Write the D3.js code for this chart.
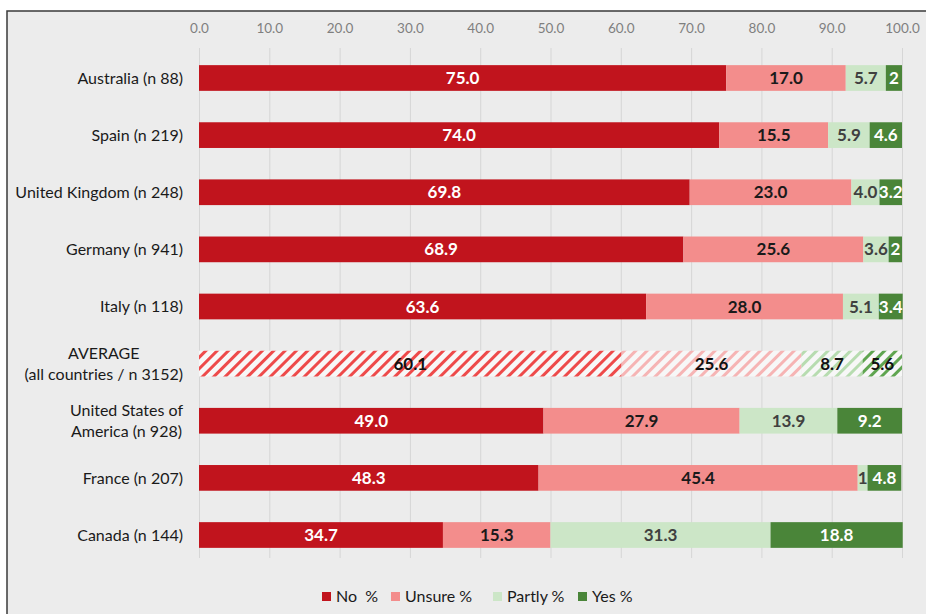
<!DOCTYPE html>
<html>
<head>
<meta charset="utf-8">
<script src="https://cdn.jsdelivr.net/npm/d3@7"></script>
<style>
  html, body { margin: 0; padding: 0; background: #fff; }
  svg { display: block; font-family: Lato, "Open Sans", sans-serif; }
</style>
</head>
<body>
<svg id="chart" width="926" height="614"></svg>
<script>
// данные
var countries = ['Australia (n 88)', 'Spain (n 219)', 'United Kingdom (n 248)', 'Germany (n 941)',
    'Italy (n 118)', 'AVERAGE\n(all countries / n 3152)', 'United States of\nAmerica (n 928)',
    'France (n 207)', 'Canada (n 144)'];
var noPct     = [75.0, 74.0, 69.8, 68.9, 63.6, 60.1, 49.0, 48.3, 34.7];
var unsurePct = [17.0, 15.5, 23.0, 25.6, 28.0, 25.6, 27.9, 45.4, 15.3];
var partlyPct = [5.7, 5.9, 4.0, 3.6, 5.1, 8.7, 13.9, 1.4, 31.3];
var yesPct    = [2.3, 4.6, 3.2, 1.9, 3.4, 5.6, 9.2, 4.8, 18.8];
var seriesNames = ['No\u00a0\u00a0%', 'Unsure %', 'Partly %', 'Yes %'];
var tickValues = [0, 10, 20, 30, 40, 50, 60, 70, 80, 90, 100];
var averageIndex = 5;

var colors = ['#c1141d', '#f38d8c', '#cce6c7', '#4a8539'];
var hatchColors = ['#ee4a4a', '#f6b4b4', '#b7dcb0', '#5fa550'];
var labelColors = ['#ffffff', '#1a1a1a', '#404040', '#ffffff'];

var svg = d3.select('#chart');

// фон и рамка
svg.append('rect').attr('x', 7).attr('y', 11).attr('width', 930).attr('height', 620)
    .attr('fill', '#ececec').attr('stroke', '#3a3a3a').attr('stroke-width', 1.5);

// штриховка для строки среднего
var defs = svg.append('defs');
hatchColors.forEach(function (c, i) {
    var p = defs.append('pattern').attr('id', 'hatch' + i)
        .attr('patternUnits', 'userSpaceOnUse').attr('width', 8).attr('height', 8)
        .attr('patternTransform', 'rotate(45)');
    p.append('rect').attr('width', 8).attr('height', 8).attr('fill', '#f7f7f7');
    p.append('rect').attr('width', 3).attr('height', 8).attr('fill', c);
});

var x = d3.scaleLinear().domain([0, 100]).range([199, 902]);
var y = d3.scaleBand().domain(d3.range(countries.length)).range([48, 565]).paddingInner(0.55).paddingOuter(0.3);

// сетка
svg.append('g')
    .attr('transform', 'translate(0,' + 48 + ')')
    .call(d3.axisBottom(x).tickValues(tickValues).tickSize(510).tickFormat(''))
    .call(function (g) {
        g.select('.domain').remove();
        g.selectAll('line').attr('stroke', '#d6d6d6');
    });

// подписи оси
svg.append('g')
    .attr('transform', 'translate(0,' + 36 + ')')
    .call(d3.axisTop(x).tickValues(tickValues).tickSize(0).tickFormat(d3.format('.1f')))
    .call(function (g) {
        g.select('.domain').remove();
        g.selectAll('text').attr('fill', '#7f7f7f').attr('font-size', 13.5)
            .attr('font-family', 'Lato, sans-serif');
    });

var rows = countries.map(function (name, i) {
    var vals = [noPct[i], unsurePct[i], partlyPct[i], yesPct[i]];
    var acc = 0;
    return vals.map(function (v, k) {
        var seg = { row: i, k: k, v: v, x0: acc, x1: acc + v };
        acc += v;
        return seg;
    });
});

var bh = y.bandwidth();
var segs = svg.append('g').selectAll('g.row').data(rows).enter().append('g')
    .attr('transform', function (d, i) { return 'translate(0,' + y(i) + ')'; });

segs.selectAll('rect').data(function (d) { return d; }).enter().append('rect')
    .attr('x', function (d) { return x(d.x0); })
    .attr('width', function (d) { return x(d.x1) - x(d.x0); })
    .attr('height', bh)
    .attr('fill', function (d) { return d.row === averageIndex ? 'url(#hatch' + d.k + ')' : colors[d.k]; });

segs.selectAll('text').data(function (d) { return d; }).enter().append('text')
    .attr('x', function (d) { return (x(d.x0) + x(d.x1)) / 2; })
    .attr('y', bh / 2)
    .attr('dy', '0.36em')
    .attr('text-anchor', 'middle')
    .attr('font-size', 17)
    .attr('font-weight', 'bold')
    .attr('fill', function (d) { return d.row === averageIndex ? '#111' : labelColors[d.k]; })
    .text(function (d) {
        var w = x(d.x1) - x(d.x0);
        return w < 17 ? String(Math.round(d.v)) : d3.format('.1f')(d.v);
    });

// подписи стран
svg.append('g').selectAll('text').data(countries).enter().append('text')
    .attr('font-size', 16).attr('fill', '#1a1a1a')
    .each(function (name, i) {
        var t = d3.select(this);
        var lines = name.split('\n');
        var cy = y(i) + bh / 2;
        var lh = 21;
        lines.forEach(function (l, j) {
            t.append('tspan').attr('y', cy + (j - (lines.length - 1) / 2) * lh).attr('dy', '0.36em').text(l);
        });
        var w = 0;
        t.selectAll('tspan').each(function () { w = Math.max(w, this.getComputedTextLength()); });
        t.attr('text-anchor', 'middle');
        t.selectAll('tspan').attr('x', 183 - w / 2);
    });

// легенда
var legend = svg.append('g').attr('transform', 'translate(322,597)');
var offsets = [0, 69, 171, 256];
seriesNames.forEach(function (n, i) {
    var g = legend.append('g').attr('transform', 'translate(' + offsets[i] + ',0)');
    g.append('rect').attr('x', 0).attr('y', -5).attr('width', 9).attr('height', 9).attr('fill', colors[i]);
    g.append('text').attr('x', 14).attr('dy', '0.33em').attr('font-size', 16).attr('fill', '#1a1a1a').text(n);
});
</script>
</body>
</html>
